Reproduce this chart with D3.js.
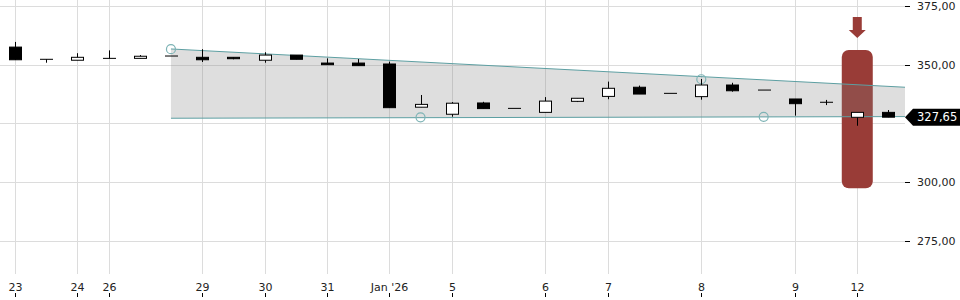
<!DOCTYPE html>
<html>
<head>
<meta charset="utf-8">
<script src="https://cdn.jsdelivr.net/npm/d3@7"></script>
<style>
  body { margin: 0; background: #fff; }
  svg { display: block; font-family: "DejaVu Sans", sans-serif; }
  .grid line { stroke: #dcdcdc; stroke-width: 1; shape-rendering: crispEdges; }
  .axis text { font-size: 11px; fill: #222; }
  .axis line, .axis path { stroke: #000; shape-rendering: crispEdges; }
</style>
</head>
<body>
<div id="chart"></div>
<script>
// candles, one per session slot
const opens  = [357.5, 352.3, 351.9, 352.7, 352.7, 353.7, 353.15, 353.15, 351.9, 354.1,
                350.7, 350.7, 350.3, 331.9, 328.9, 333.7, 331.4, 329.7, 334.4, 336.5,
                340.4, 337.8, 336.4, 341.35, 339.2, 335.4, 334.0, 327.6, 329.7];
const highs  = [359.7, 352.3, 354.9, 356.1, 354.1, 353.7, 356.6, 353.15, 355.3, 354.1,
                352.7, 352.4, 351.3, 337.1, 334.1, 334.2, 331.4, 336.2, 335.7, 342.8,
                341.1, 337.8, 343.9, 342.3, 339.2, 335.4, 335.0, 329.7, 330.7];
const lows   = [352.1, 350.85, 351.9, 352.7, 352.7, 353.7, 351.15, 352.3, 350.85, 352.3,
                350.0, 349.6, 331.7, 331.9, 327.85, 331.3, 331.4, 329.7, 334.1, 335.3,
                337.5, 337.8, 335.1, 338.5, 339.2, 328.3, 332.8, 324.0, 327.65];
const closes = [352.1, 352.3, 353.15, 352.7, 353.6, 353.7, 352.1, 352.55, 354.1, 352.3,
                350.0, 349.6, 331.7, 333.1, 333.6, 331.3, 331.4, 334.5, 335.7, 339.95,
                337.5, 337.8, 341.35, 338.9, 339.2, 333.4, 334.0, 329.7, 327.65];

// x axis labels sit on these candle slots
const tickSlots  = [0, 2, 3, 6, 8, 10, 12, 14, 17, 19, 22, 25, 27];
const tickLabels = ['23', '24', '26', '29', '30', '31', "Jan '26", '5', '6', '7', '8', '9', '12'];

const priceTicks = [375, 350, 325, 300, 275];
const lastPrice = 327.65;

// trend channel: [slot, value] at start and end
const channelUpper = [[5, 356.7], [28.53, 340.4]];
const channelLower = [[5, 327.2], [28.53, 327.9]];
const touchPoints  = [[5, 356.6], [22, 343.8], [13, 327.6], [24, 327.8]];

// signal marker
const signalSlot = 27;
const signalRange = [356.3, 297.4];

const fmt = v => d3.format('.2f')(v).replace('.', ',');

const width = 960, height = 300;
const plotRight = 905, plotBottom = 274;

const svg = d3.select('#chart').append('svg')
  .attr('width', width)
  .attr('height', height);

const x = d3.scaleLinear().domain([-0.48, 28.53]).range([0, plotRight]);
const y = d3.scaleLinear().domain([375, 275]).range([6, 240.8]);

// grid
const grid = svg.append('g').attr('class', 'grid');
grid.selectAll('.v').data(tickSlots).enter().append('line')
  .attr('x1', d => Math.round(x(d)) + 0.5).attr('x2', d => Math.round(x(d)) + 0.5)
  .attr('y1', 0).attr('y2', plotBottom);
grid.selectAll('.h').data(priceTicks).enter().append('line')
  .attr('x1', 0).attr('x2', plotRight)
  .attr('y1', d => Math.round(y(d)) + 0.5).attr('y2', d => Math.round(y(d)) + 0.5);

// signal highlight
const sx = x(signalSlot);
svg.append('rect')
  .attr('x', sx - 15.5).attr('width', 31)
  .attr('y', y(signalRange[0])).attr('height', y(signalRange[1]) - y(signalRange[0]))
  .attr('rx', 7)
  .attr('fill', '#993c37');
svg.append('path')
  .attr('d', `M${sx - 4.5},17 H${sx + 4.5} V30 H${sx + 8.5} L${sx},38 L${sx - 8.5},30 H${sx - 4.5} Z`)
  .attr('fill', '#993c37');

// channel
const area = [channelUpper[0], channelUpper[1], channelLower[1], channelLower[0]];
svg.append('path')
  .attr('d', 'M' + area.map(p => x(p[0]) + ',' + y(p[1])).join('L') + 'Z')
  .attr('fill', '#808080')
  .attr('fill-opacity', 0.26);
[channelUpper, channelLower].forEach(l => {
  svg.append('line')
    .attr('x1', x(l[0][0])).attr('y1', y(l[0][1]))
    .attr('x2', x(l[1][0])).attr('y2', y(l[1][1]))
    .attr('stroke', '#5d9fa2').attr('stroke-width', 1);
});
svg.selectAll('.touch').data(touchPoints).enter().append('circle')
  .attr('cx', d => x(d[0])).attr('cy', d => y(d[1]))
  .attr('r', 4.5)
  .attr('fill', 'none')
  .attr('stroke', '#7db3b5')
  .attr('stroke-width', 1.2);

// candles
const candles = d3.range(opens.length).map(i => ({
  i, o: opens[i], h: highs[i], l: lows[i], c: closes[i]
}));
const cg = svg.selectAll('.candle').data(candles).enter().append('g')
  .attr('class', 'candle')
  .attr('transform', d => 'translate(' + (Math.round(x(d.i)) + 0.5) + ',0)');
cg.append('line')
  .attr('y1', d => y(d.h)).attr('y2', d => y(d.l))
  .attr('stroke', '#000');
cg.append('rect')
  .attr('x', -6)
  .attr('width', 12)
  .attr('y', d => y(Math.max(d.o, d.c)))
  .attr('height', d => Math.max(0.01, Math.abs(y(d.o) - y(d.c))))
  .attr('fill', d => d.c < d.o ? '#000' : '#fff')
  .attr('stroke', '#000')
  .attr('stroke-width', 1);

// y axis
const yAxis = svg.append('g').attr('class', 'axis');
const yt = yAxis.selectAll('.yt').data(priceTicks.filter(d => d !== 325)).enter().append('g')
  .attr('transform', d => 'translate(0,' + (Math.round(y(d)) + 0.5) + ')');
yt.append('line').attr('x1', plotRight).attr('x2', plotRight + 5);
yt.append('text').attr('x', 917).attr('dy', '0.35em').text(fmt);

// last price tag
const ly = y(lastPrice);
svg.append('path')
  .attr('d', `M${plotRight},${ly} L${plotRight + 8},${ly - 8.5} H${width} V${ly + 8.5} H${plotRight + 8} Z`)
  .attr('fill', '#000');
svg.append('text')
  .attr('x', 917).attr('y', ly).attr('dy', '0.35em')
  .attr('font-size', 11.5).attr('fill', '#fff')
  .text(fmt(lastPrice));

// x axis
const xAxis = svg.append('g').attr('class', 'axis');
const xt = xAxis.selectAll('.xt').data(tickSlots).enter().append('g')
  .attr('transform', d => 'translate(' + (Math.round(x(d)) + 0.5) + ',0)');
xt.append('line').attr('y1', 293).attr('y2', 297);
xt.append('text').attr('y', 291).attr('text-anchor', 'middle')
  .text((d, i) => tickLabels[i]);
</script>
</body>
</html>
